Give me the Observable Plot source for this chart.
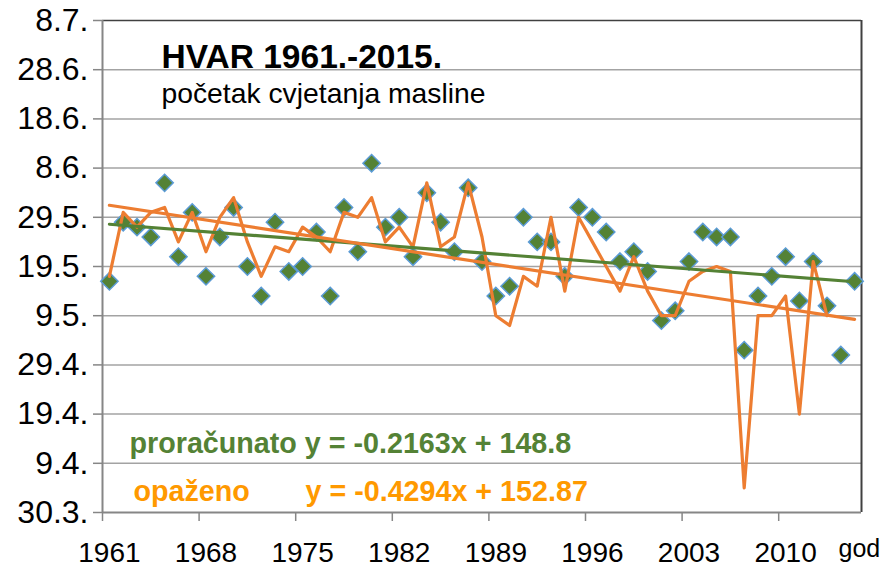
<!DOCTYPE html>
<html>
<head>
<meta charset="utf-8">
<script src="https://cdn.jsdelivr.net/npm/d3@7"></script>
<script src="https://cdn.jsdelivr.net/npm/@observablehq/plot@0.6"></script>
<style>
  html, body { margin: 0; padding: 0; background: #ffffff; }
  #chart svg { display: block; }
</style>
</head>
<body>
<div id="chart"></div>
<script>
// ---- data (day values as date serials: 90 = 30.3., 190 = 8.7.) ----
const years = [1961,1962,1963,1964,1965,1966,1967,1968,1969,1970,1971,1972,1973,1974,1975,1976,1977,1978,1979,1980,
  1981,1982,1983,1984,1985,1986,1987,1988,1989,1990,1991,1992,1993,1994,1995,1996,1997,1998,1999,2000,
  2001,2002,2003,2004,2005,2006,2007,2008,2009,2010,2011,2012,2013,2014,2015];

// proračunato (green diamonds), 1961–2015
const calculated = [137,149,148,146,157,142,151,138,146,152,140,134,149,139,140,147,134,152,143,161,
  148,150,142,155,149,143,156,141,134,136,150,145,145,138,152,150,147,141,143,139,
  129,131,141,147,146,146,123,134,138,142,133,141,132,122,137];

// opaženo (orange line), 1961–2013
const observed = [138,151,148,151,152,145,151,143,150,154,145,138,144,143,148,146,143,151,150,154,
  145,148,144,157,144,146,157,146,130,128,138,136,150,135,150,145,140,135,142,135,
  130,130,137,139,140,139,95,130,130,134,110,141,130];

// trend lines as printed on the chart (x = 1 … 55)
const trendNames = ["proračunato", "opaženo"];
const trendSlopes = [-0.2163, -0.4294];
const trendIntercepts = [148.8, 152.87];
const trendX = [1, 55];

const yTicks = [90,100,110,120,130,140,150,160,170,180,190];
const yTickLabels = ["30.3.","9.4.","19.4.","29.4.","9.5.","19.5.","29.5.","8.6.","18.6.","28.6.","8.7."];
const xLabelYears = [1961,1968,1975,1982,1989,1996,2003,2010];

const titleText = "HVAR 1961.-2015.";
const subtitleText = "početak cvjetanja masline";
const eqGreen = "proračunato y = -0.2163x + 148.8";
const eqOrangeName = "opaženo";
const eqOrange = "y = -0.4294x + 152.87";
const xUnit = "god";

// ---- tables built from the arrays ----
const calcData = years.map((yr, i) => ({year: yr, v: calculated[i]}));
const obsData = observed.map((v, i) => ({year: years[i], v}));
const trendData = [];
trendNames.forEach((name, k) => {
  trendX.forEach(t => trendData.push({name, year: years[0] - 1 + t, v: trendIntercepts[k] + trendSlopes[k] * t}));
});
const boundaries = xLabelYears.map(y => y - 0.5);

const green = "#548235", orange = "#ED7D31", orangeText = "#FF9900";
const gridColor = "#a3a3a3", axisColor = "#868686", frameColor = "#404040";

const chart = Plot.plot({
  width: 885, height: 570,
  marginLeft: 102, marginRight: 24, marginTop: 20, marginBottom: 58,
  style: {fontFamily: "'Liberation Sans', Arial, sans-serif", background: "#ffffff", color: "#000000"},
  x: {domain: [years[0] - 0.5, years[years.length - 1] + 0.5], label: null},
  y: {domain: [yTicks[0], yTicks[yTicks.length - 1]], label: null},
  color: {domain: trendNames, range: [green, orange]},
  marks: [
    Plot.ruleY(yTicks.slice(1, -1), {stroke: gridColor, strokeWidth: 1.5}),
    Plot.ruleY([yTicks[yTicks.length - 1]], {stroke: frameColor, strokeWidth: 1.5}),
    Plot.ruleX([years[years.length - 1] + 0.5], {stroke: frameColor, strokeWidth: 2}),
    Plot.ruleX([years[0] - 0.5], {stroke: axisColor, strokeWidth: 2}),
    Plot.ruleY([yTicks[0]], {stroke: axisColor, strokeWidth: 2}),
    Plot.axisY({ticks: yTicks, tickSize: 9, tickPadding: 5, stroke: axisColor, strokeWidth: 1.5,
      tickFormat: d => yTickLabels[yTicks.indexOf(d)], fontSize: 32, fill: "#000", label: null}),
    Plot.axisX({ticks: boundaries, tickSize: 9, stroke: axisColor, strokeWidth: 1.5, tickFormat: () => "", label: null}),
    Plot.axisX({ticks: xLabelYears, tickSize: 0, tickPadding: 30, tickFormat: d => String(d), fontSize: 28, fill: "#000", label: null}),
    Plot.dot(calcData, {x: "year", y: "v", symbol: "diamond2", r: 7.8, fill: green, stroke: "#5B9BD5", strokeWidth: 1.5}),
    Plot.line(obsData, {x: "year", y: "v", stroke: orange, strokeWidth: 3.2}),
    Plot.line(trendData, {x: "year", y: "v", z: "name", stroke: "name", strokeWidth: 3.2}),
    Plot.text([titleText], {frameAnchor: "top-left", dx: 59, dy: 47, textAnchor: "start", lineAnchor: "bottom", fontSize: 33.5, fontWeight: "bold", fill: "#000"}),
    Plot.text([subtitleText], {frameAnchor: "top-left", dx: 59, dy: 82, textAnchor: "start", lineAnchor: "bottom", fontSize: 28.3, fill: "#000"}),
    Plot.text([eqGreen], {frameAnchor: "top-left", dx: 27, dy: 432, textAnchor: "start", lineAnchor: "bottom", fontSize: 28.7, fontWeight: "bold", fill: green}),
    Plot.text([eqOrangeName], {frameAnchor: "top-left", dx: 31, dy: 480, textAnchor: "start", lineAnchor: "bottom", fontSize: 28.7, fontWeight: "bold", fill: orangeText}),
    Plot.text([eqOrange], {frameAnchor: "top-left", dx: 203, dy: 480, textAnchor: "start", lineAnchor: "bottom", fontSize: 28.7, fontWeight: "bold", fill: orangeText}),
    Plot.text([xUnit], {frameAnchor: "bottom-right", dx: -23, dy: 44, textAnchor: "start", lineAnchor: "bottom", fontSize: 25, fill: "#000"})
  ]
});
document.getElementById("chart").appendChild(chart);
</script>
</body>
</html>
